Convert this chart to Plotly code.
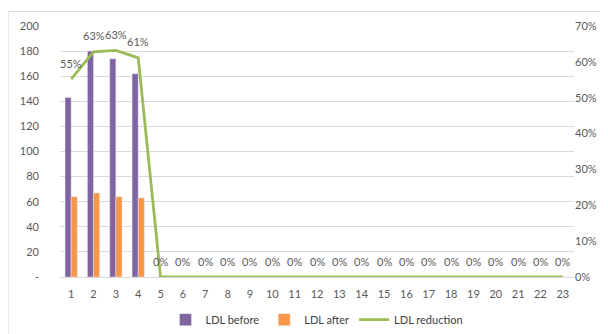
import plotly.graph_objects as go

categories = [str(i) for i in range(1, 24)]
ldl_before = [143, 180, 174, 162] + [0] * 19
ldl_after = [64, 67, 64, 63] + [0] * 19
ldl_reduction = [0.552, 0.628, 0.632, 0.611] + [0.0] * 19

left_ticks = [0, 20, 40, 60, 80, 100, 120, 140, 160, 180, 200]
left_ticktext = ["-"] + [str(v) for v in left_ticks[1:]]
right_ticks = [0, 0.1, 0.2, 0.3, 0.4, 0.5, 0.6, 0.7]
right_ticktext = ["0%", "10%", "20%", "30%", "40%", "50%", "60%", "70%"]

grey = "#595959"
fig = go.Figure()
fig.add_trace(go.Bar(x=categories, y=ldl_before, name="LDL before", marker_color="#8064A2"))
fig.add_trace(go.Bar(x=categories, y=ldl_after, name="LDL after", marker_color="#F79646"))
fig.add_trace(go.Scatter(
    x=categories, y=ldl_reduction, name="LDL reduction", yaxis="y2",
    mode="lines", line=dict(color="#9BBB59", width=2.8),
))

annotations = [
    dict(x=i, y=v, xref="x", yref="y2", text=f"{round(v*100):.0f}%", showarrow=False,
         yshift=16, yanchor="middle", font=dict(size=11, color=grey))
    for i, v in enumerate(ldl_reduction)
]

fig.update_layout(
    width=600, height=326,
    margin=dict(l=52, r=34, t=18, b=57, autoexpand=False),
    paper_bgcolor="white", plot_bgcolor="white",
    font=dict(family="Lato, Liberation Sans, sans-serif", size=11, color=grey),
    barmode="group", bargap=0.45, bargroupgap=0,
    showlegend=True,
    legend=dict(orientation="h", x=0.5, xanchor="center", y=-0.17, yanchor="middle",
                font=dict(size=11, color="#404040")),
    xaxis=dict(type="category", range=[-0.5, 22.5], showline=True, linecolor="#D9D9D9",
               tickfont=dict(size=11, color=grey), ticks="", showgrid=False, automargin=False,
               ticklabelstandoff=7),
    yaxis=dict(range=[0, 200], tickvals=left_ticks, ticktext=left_ticktext,
               showgrid=True, gridcolor="#D9D9D9", gridwidth=1, zeroline=False,
               ticklabelstandoff=20, tickfont=dict(size=11, color=grey), automargin=False),
    yaxis2=dict(range=[0, 0.7], tickvals=right_ticks, ticktext=right_ticktext,
                overlaying="y", side="right", showgrid=False, zeroline=False,
                tickfont=dict(size=11, color=grey), automargin=False),
    annotations=annotations,
    shapes=[dict(type="rect", xref="paper", yref="paper",
                 x0=-0.101, x1=1.2, y0=-0.5, y1=1.058,
                 line=dict(color="#D9D9D9", width=1), fillcolor="rgba(0,0,0,0)", layer="below")],
)

fig.write_html("out.html")
